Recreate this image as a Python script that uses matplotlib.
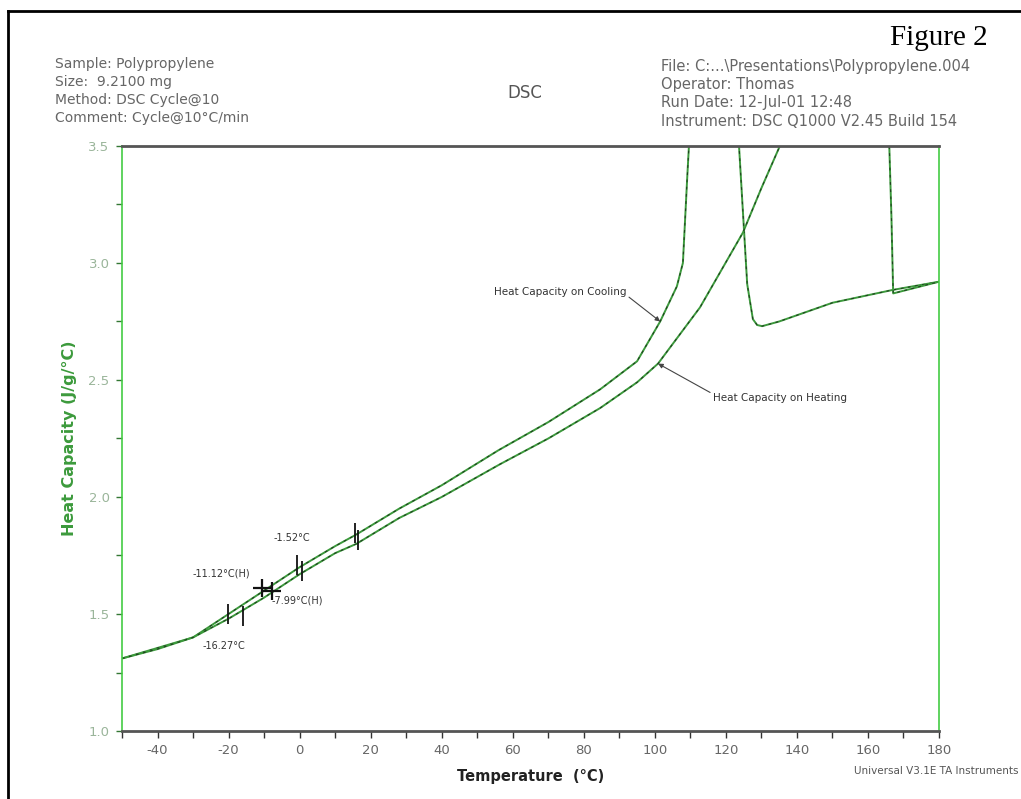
import numpy as np
import matplotlib.pyplot as plt
from matplotlib.lines import Line2D

# cooling run (upper branch on the left)
cool_T = [-50, -40, -30, -20, -10, 0, 10, 16, 28, 40, 56, 70, 84.6, 95, 101.5, 106.2, 107.9, 109.1, 109.6]
cool_cp = [1.31, 1.355, 1.40, 1.50, 1.60, 1.70, 1.79, 1.84, 1.95, 2.05, 2.20, 2.32, 2.46, 2.58, 2.75, 2.90, 3.0, 3.36, 3.5]
# cooling start: 180 C down to the crystallisation exotherm
cryst_T = [180, 167, 150, 135, 130.2, 128.8, 127.6, 126.0, 123.7]
cryst_cp = [2.92, 2.885, 2.83, 2.75, 2.73, 2.735, 2.76, 2.91, 3.5]

# heating run
heat_T = [-50, -40, -30, -20, -10, 0, 10, 16, 28, 40, 56.4, 70, 84.6, 95, 100.9, 112.7, 124.8, 130, 135.2]
heat_cp = [1.31, 1.35, 1.40, 1.48, 1.57, 1.67, 1.76, 1.80, 1.91, 2.00, 2.14, 2.25, 2.38, 2.49, 2.57, 2.81, 3.13, 3.32, 3.5]
# heating after the melt
melt_T = [166.0, 166.6, 167.1, 180]
melt_cp = [3.5, 3.2, 2.87, 2.92]

# glass transition analysis marks
bar_T = [-20.2, -15.9, -0.6, 0.6, 15.6, 16.4]
bar_cp = [1.50, 1.49, 1.71, 1.685, 1.845, 1.815]
cross_T = [-10.6, -7.8]
cross_cp = [1.61, 1.60]
tg_labels = ['-11.12°C(H)', '-7.99°C(H)', '-1.52°C', '-16.27°C']
tg_label_T = [-22.1, -0.6, -2.1, -21.3]
tg_label_cp = [1.671, 1.556, 1.825, 1.363]

x_ticks = list(range(-40, 181, 20))
y_ticks = [1.0, 1.5, 2.0, 2.5, 3.0, 3.5]

plt.rcParams['font.family'] = ['DejaVu Sans']
plt.rcParams['axes.unicode_minus'] = False

fig = plt.figure(figsize=(10.21, 7.99), dpi=100)
ax = fig.add_axes([0.1195, 0.0851, 0.8002, 0.7322])

green = '#3c9a3c'
dash = '#1a301a'


def trace(T, cp):
    ax.plot(T, cp, color=green, lw=1.4, solid_capstyle='butt')
    ax.plot(T, cp, color=dash, lw=0.8, ls=(0, (2.5, 4)), alpha=0.85)


trace(cool_T, cool_cp)
trace(cryst_T, cryst_cp)
trace(heat_T, heat_cp)
trace(melt_T, melt_cp)

ax.plot(bar_T, bar_cp, ls='none', marker='|', ms=14, mew=1.3, color='#111111')
ax.plot(cross_T, cross_cp, ls='none', marker='+', ms=13, mew=1.6, color='#111111')
for s, t, c in zip(tg_labels, tg_label_T, tg_label_cp):
    ax.text(t, c, s, fontsize=7, ha='center', va='center', color='#333333')

ax.annotate('Heat Capacity on Cooling', xy=(101.5, 2.75), xytext=(73.3, 2.876),
            fontsize=7.5, ha='center', va='center', color='#333333',
            arrowprops=dict(arrowstyle='-|>', color='#444444', lw=0.8,
                            mutation_scale=7, shrinkA=0, shrinkB=0,
                            relpos=(1.0, 0.2)))
ax.annotate('Heat Capacity on Heating', xy=(100.9, 2.57), xytext=(135.2, 2.423),
            fontsize=7.5, ha='center', va='center', color='#333333',
            arrowprops=dict(arrowstyle='-|>', color='#444444', lw=0.8,
                            mutation_scale=7, shrinkA=0, shrinkB=0,
                            relpos=(0.0, 0.9)))

ax.set_xlim(-50, 180)
ax.set_ylim(1.0, 3.5)
ax.set_xticks(x_ticks)
ax.set_xticks(np.arange(-50, 181, 10), minor=True)
ax.set_yticks(y_ticks)
ax.set_yticks(np.arange(1.0, 3.51, 0.25), minor=True)
ax.set_yticklabels([f'{v:.1f}' for v in y_ticks])

for side in ['left', 'right']:
    ax.spines[side].set_color('#44cc44')
    ax.spines[side].set_linewidth(1.2)
for side in ['top', 'bottom']:
    ax.spines[side].set_color('#555555')
    ax.spines[side].set_linewidth(2)

ax.tick_params(axis='x', which='both', direction='out', length=5, width=1,
               color='#333333', labelsize=9.5, labelcolor='#666666', pad=4)
ax.tick_params(axis='y', which='both', direction='out', length=4, width=1,
               color='#337733', labelsize=9.5, labelcolor='#9ab59a', pad=5)

ax.set_xlabel('Temperature  (°C)', fontsize=10.5, fontweight='bold', color='#222222', labelpad=9)
ax.set_ylabel('Heat Capacity (J/g/°C)', fontsize=11.5, fontweight='bold', color=green, labelpad=8)

# header block
left_lines = ['Sample: Polypropylene', 'Size:  9.2100 mg', 'Method: DSC Cycle@10', 'Comment: Cycle@10°C/min']
right_lines = ['File: C:...\\Presentations\\Polypropylene.004', 'Operator: Thomas',
               'Run Date: 12-Jul-01 12:48', 'Instrument: DSC Q1000 V2.45 Build 154']
for i, s in enumerate(left_lines):
    fig.text(55 / 1021, 1 - (64 + 18 * i) / 799, s, fontsize=10, color='#666666', va='center')
for i, s in enumerate(right_lines):
    fig.text(661 / 1021, 1 - (67 + 18 * i) / 799, s, fontsize=10.5, color='#666666', va='center')
fig.text(525 / 1021, 1 - 93 / 799, 'DSC', fontsize=12, color='#555555', ha='center', va='center')
fig.text(988 / 1021, 1 - 38 / 799, 'Figure 2', fontsize=21, family='Liberation Serif',
         color='black', ha='right', va='center')
fig.text(854 / 1021, 1 - 771 / 799, 'Universal V3.1E TA Instruments', fontsize=7.5,
         color='#555555', va='center')

# outer frame of the page
fig.add_artist(Line2D([8 / 1021, 1.0], [1 - 11 / 799, 1 - 11 / 799], color='black', lw=2))
fig.add_artist(Line2D([8 / 1021, 8 / 1021], [1 - 11 / 799, 0.0], color='black', lw=2))

fig.savefig('out.png', dpi=100)
